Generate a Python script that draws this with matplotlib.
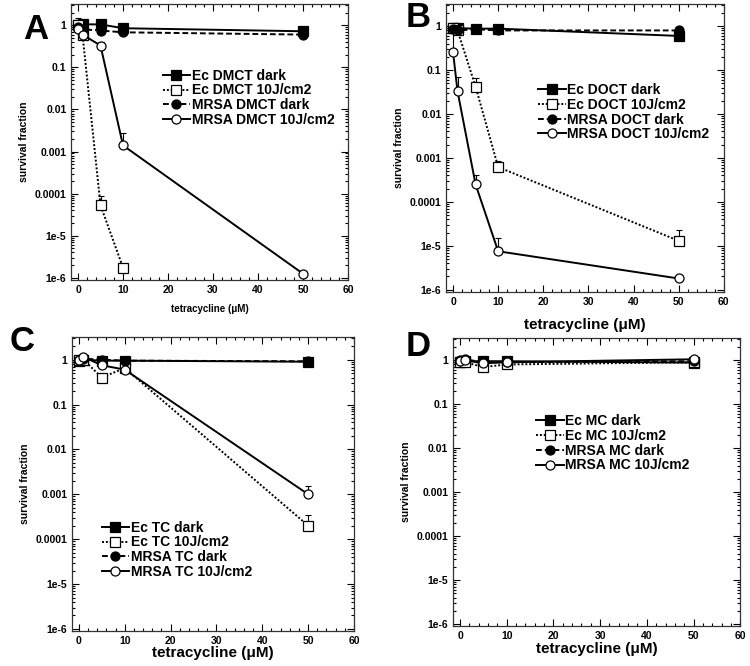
import numpy as np
import matplotlib
matplotlib.use("Agg")
import matplotlib.pyplot as plt
from matplotlib.ticker import FixedLocator, MultipleLocator, LogLocator, NullFormatter

plt.rcParams['font.family'] = ['Liberation Sans', 'DejaVu Sans']
plt.rcParams['font.weight'] = 'bold'

conc = [0, 1, 5, 10, 50]

# Panel A (DMCT)
A_ec_dark = [1.0, 1.05, 1.05, 0.85, 0.72]
A_ec_light = [1.0, 0.6, 5.3e-5, 1.75e-6]
A_mrsa_dark = [0.9, 0.8, 0.75, 0.68, 0.6]
A_mrsa_light = [0.8, 0.6, 0.33, 0.0014, 1.25e-6]
A_ec_light_err = [0.0, 0.0, 9e-5, 0.0]
A_mrsa_light_err = [0.0, 0.0, 0.4, 0.0027, 0.0]
A_ec_dark_err = [1.45, 0.0, 0.0, 0.0, 0.0]

# Panel B (DOCT)
B_ec_dark = [0.9, 0.9, 0.88, 0.88, 0.6]
B_ec_light = [0.9, 0.8, 0.042, 0.00062, 1.3e-5]
B_mrsa_dark = [0.85, 0.8, 0.85, 0.8, 0.8]
B_mrsa_light = [0.26, 0.033, 0.00025, 7.5e-6, 1.8e-6]
B_ec_light_err = [0.0, 0.0, 0.065, 0.00085, 2.3e-5]
B_mrsa_light_err = [0.8, 0.07, 0.0004, 1.5e-5, 0.0]

# Panel C (TC)
C_ec_dark = [0.95, 1.0, 0.95, 0.95, 0.9]
C_ec_light = [1.0, 1.0, 0.4, 0.65, 0.0002]
C_mrsa_dark = [1.0, 1.05, 1.0, 0.95, 0.92]
C_mrsa_light = [1.0, 1.15, 0.75, 0.6, 0.001]
C_ec_light_err = [0.0, 0.0, 0.0, 0.0, 0.00035]
C_mrsa_light_err = [0.0, 0.0, 0.0, 0.0, 0.0015]

# Panel D (MC)
D_ec_dark = [0.9, 0.95, 0.95, 0.95, 0.88]
D_ec_light = [0.9, 0.9, 0.7, 0.8, 0.9]
D_mrsa_dark = [1.0, 1.05, 0.9, 0.9, 0.95]
D_mrsa_light = [0.95, 1.0, 0.85, 0.9, 1.05]

panels = [
    dict(letter='A', drug='DMCT', series=[A_ec_dark, A_ec_light, A_mrsa_dark, A_mrsa_light],
         errs=[A_ec_dark_err, A_ec_light_err, None, A_mrsa_light_err],
         pos=[0.095, 0.580, 0.369, 0.414], leg=(0.33, 0.765), xlab_size=7, lpad=7,
         letter_xy=(0.047, 0.955)),
    dict(letter='B', drug='DOCT', series=[B_ec_dark, B_ec_light, B_mrsa_dark, B_mrsa_light],
         errs=[None, B_ec_light_err, None, B_mrsa_light_err],
         pos=[0.595, 0.562, 0.370, 0.432], leg=(0.33, 0.725), xlab_size=11, lpad=8,
         letter_xy=(0.557, 0.973)),
    dict(letter='C', drug='TC', series=[C_ec_dark, C_ec_light, C_mrsa_dark, C_mrsa_light],
         errs=[None, C_ec_light_err, None, C_mrsa_light_err],
         pos=[0.096, 0.0526, 0.376, 0.4414], leg=(0.105, 0.375), xlab_size=11, lpad=0,
         letter_xy=(0.030, 0.487)),
    dict(letter='D', drug='MC', series=[D_ec_dark, D_ec_light, D_mrsa_dark, D_mrsa_light],
         errs=[None, None, None, None],
         pos=[0.604, 0.060, 0.383, 0.4325], leg=(0.29, 0.735), xlab_size=11, lpad=1,
         letter_xy=(0.557, 0.480)),
]

styles = [
    dict(ls='-', marker='s', mfc='black'),
    dict(ls=(0, (1, 1)), marker='s', mfc='white'),
    dict(ls=(0, (3, 1.5)), marker='o', mfc='black'),
    dict(ls='-', marker='o', mfc='white'),
]
name_fmt = ['Ec {} dark', 'Ec {} 10J/cm2', 'MRSA {} dark', 'MRSA {} 10J/cm2']

ytick_vals = [1e-6, 1e-5, 1e-4, 1e-3, 1e-2, 1e-1, 1]
ytick_labels = ['1e-6', '1e-5', '0.0001', '0.001', '0.01', '0.1', '1']
xtick_vals = [0, 10, 20, 30, 40, 50, 60]

fig = plt.figure(figsize=(7.5, 6.66), dpi=100)

for p in panels:
    ax = fig.add_axes(p['pos'])
    handles = []
    for i, (vals, st) in enumerate(zip(p['series'], styles)):
        xs = conc[:len(vals)]
        ln, = ax.plot(xs, vals, color='black', ls=st['ls'], lw=1.4,
                      marker=st['marker'], ms=6.5, mfc=st['mfc'], mec='black', mew=0.9,
                      label=name_fmt[i].format(p['drug']), zorder=3)
        handles.append(ln)
        err = p['errs'][i]
        if err is not None:
            for x, v, e in zip(xs, vals, err):
                if e > v:
                    ax.errorbar([x], [v], yerr=[[0], [e - v]], fmt='none',
                                ecolor='black', elinewidth=0.8, capsize=2.5, capthick=0.8, zorder=2)
    ax.set_yscale('log')
    ax.set_ylim(9e-7, 3.2)
    ax.set_xlim(-1.5, 60)
    ax.yaxis.set_major_locator(FixedLocator(ytick_vals))
    ax.set_yticklabels(ytick_labels)
    ax.yaxis.set_minor_locator(LogLocator(base=10, subs=np.arange(2, 10)))
    ax.yaxis.set_minor_formatter(NullFormatter())
    ax.xaxis.set_major_locator(FixedLocator(xtick_vals))
    ax.set_xticklabels([str(v) for v in xtick_vals])
    ax.xaxis.set_minor_locator(MultipleLocator(2))
    ax.tick_params(which='both', direction='in', top=True, right=True, labelsize=7.5, width=0.8)
    ax.tick_params(which='major', length=5)
    ax.tick_params(which='minor', length=2.5)
    for lab in ax.get_xticklabels() + ax.get_yticklabels():
        lab.set_fontweight('bold')
    for s in ax.spines.values():
        s.set_linewidth(0.9)
        s.set_color('#333333')
    ax.set_ylabel('survival fraction', fontsize=7.5, fontweight='bold')
    ax.set_xlabel('tetracycline (μM)', fontsize=p['xlab_size'], fontweight='bold', labelpad=p['lpad'])
    ax.legend(handles=handles, loc='upper left', bbox_to_anchor=p['leg'], frameon=False,
              handlelength=2.0, handletextpad=0.1, labelspacing=0.05,
              borderaxespad=0, borderpad=0, numpoints=1,
              prop={'weight': 'bold', 'size': 10})
    fig.text(p['letter_xy'][0], p['letter_xy'][1], p['letter'], fontsize=25, fontweight='bold',
             ha='center', va='center')

fig.savefig('out.png', dpi=100)
